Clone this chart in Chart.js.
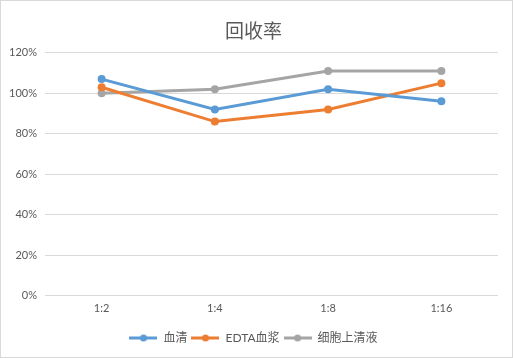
<!DOCTYPE html>
<html>
<head>
<meta charset="utf-8">
<script src="https://cdn.jsdelivr.net/npm/chart.js@4"></script>
<style>
  html, body { margin: 0; padding: 0; background: #fff; }
  #wrap { width: 513px; height: 358px; box-sizing: border-box; border: 1px solid #d9d9d9; }
  canvas { display: block; }
</style>
</head>
<body>
<div id="wrap"><canvas id="c" width="511" height="356"></canvas></div>
<script>
'use strict';

// ── Data ──────────────────────────────────────────────────────────────
const categories = ['1:2', '1:4', '1:8', '1:16'];
const seriesNames = ['血清', 'EDTA血浆', '细胞上清液'];
const serum   = [107, 92, 102, 96];
const plasma  = [103, 86, 92, 105];
const cellSup = [100, 102, 111, 111];
const yTicks  = [0, 20, 40, 60, 80, 100, 120];

const COLORS = ['#5B9BD5', '#ED7D31', '#A5A5A5'];
const FONT = 'Lato, "Noto Sans CJK SC", sans-serif';

// ── Legend marker: line with a dot ───────────────────────────────────
function legendMarker(color) {
  const cv = document.createElement('canvas');
  cv.width = 28; cv.height = 8;
  const g = cv.getContext('2d');
  g.strokeStyle = color; g.lineWidth = 3;
  g.beginPath(); g.moveTo(0, 4); g.lineTo(28, 4); g.stroke();
  g.fillStyle = color;
  g.beginPath(); g.arc(14, 4, 3.5, 0, Math.PI * 2); g.fill();
  return cv;
}

const datasets = [serum, plasma, cellSup].map((d, i) => ({
  label: seriesNames[i],
  data: d,
  borderColor: COLORS[i],
  backgroundColor: COLORS[i],
  borderWidth: 3,
  pointRadius: 4,
  pointBorderWidth: 0,
  pointHoverRadius: 4,
  tension: 0,
}));

new Chart(document.getElementById('c'), {
  type: 'line',
  data: { labels: categories, datasets },
  options: {
    responsive: false,
    animation: false,
    layout: { padding: { left: 8, right: 14, top: 5, bottom: 3 } },
    plugins: {
      title: {
        display: true,
        text: '回收率',
        color: '#595959',
        font: { family: FONT, size: 19, weight: 'normal' },
        padding: { top: 14, bottom: 10 },
      },
      legend: {
        position: 'bottom',
        labels: {
          color: '#595959',
          font: { family: FONT, size: 12 },
          usePointStyle: true,
          pointStyleWidth: 28,
          padding: 4,
          generateLabels: chart => chart.data.datasets.map((ds, i) => ({
            text: ds.label,
            fillStyle: COLORS[i],
            strokeStyle: COLORS[i],
            pointStyle: legendMarker(COLORS[i]),
            fontColor: '#595959',
            datasetIndex: i,
          })),
        },
      },
      tooltip: { enabled: false },
    },
    scales: {
      x: {
        offset: true,
        grid: { display: false, drawTicks: false },
        border: { display: false },
        // empty title used only as spacing between tick labels and legend
        title: { display: true, text: ' ', font: { size: 6 }, padding: 0 },
        ticks: { color: '#595959', font: { family: FONT, size: 11 }, padding: 6 },
      },
      y: {
        min: 0, max: 120,
        afterBuildTicks: s => { s.ticks = yTicks.map(v => ({ value: v })); },
        afterFit: s => { s.width = 36; },
        grid: { color: '#d9d9d9', lineWidth: 1, drawTicks: false },
        border: { display: false },
        ticks: {
          color: '#595959',
          font: { family: FONT, size: 11 },
          padding: 8,
          callback: v => v + '%',
        },
      },
    },
  },
});
</script>
</body>
</html>
